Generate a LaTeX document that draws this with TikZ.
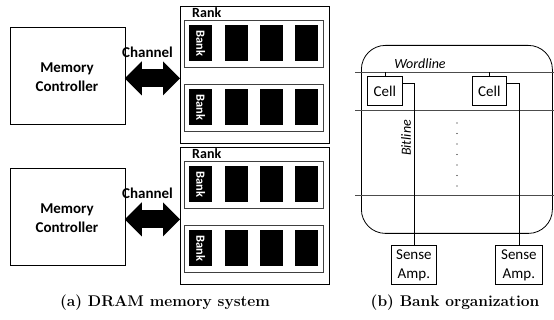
\documentclass[tikz,border=0pt]{standalone}
\usepackage{fontspec}
\setsansfont{Carlito}
\usetikzlibrary{arrows.meta,calc}
\tikzset{
  box/.style={draw, line width=0.8pt, inner sep=0pt},
  rowbox/.style={draw=black!75, line width=0.8pt, inner sep=0pt, minimum width=139pt, minimum height=47pt, anchor=north west},
  bankbox/.style={fill=black, inner sep=0pt, minimum width=23pt, minimum height=36pt, anchor=north west},
  banklbl/.style={text=white, font=\sffamily\bfseries\fontsize{12.5}{14}\selectfont, rotate=-90},
  lbl/.style={font=\sffamily\bfseries\fontsize{15}{19}\selectfont, align=center},
  rlbl/.style={font=\sffamily\fontsize{15}{19}\selectfont, align=center},
  ilbl/.style={font=\sffamily\itshape\fontsize{14}{17}\selectfont},
  wline/.style={draw=black!70, line width=0.8pt},
  bline/.style={draw=black, line width=0.8pt},
  captxt/.style={font=\rmfamily\bfseries\fontsize{15.5}{18}\selectfont},
  chan/.style={line width=18pt, {Triangle[length=17pt,width=33pt]}-{Triangle[length=17pt,width=33pt]}}
}
\begin{document}
\begin{tikzpicture}[x=1pt,y=-1pt]
\useasboundingbox (0,0) rectangle (554,320);
% ---------- (a) two memory systems ----------
\foreach \dy/\s in {0/1,141/2}{
  \node[box, minimum width=115pt, minimum height=97pt, anchor=north west] (mc\s) at (10,27+\dy) {};
  \node[lbl] (mct\s) at (67,77.5+\dy) {Memory\\Controller};
  \node[box, minimum width=149pt, minimum height=137pt, anchor=north west] (rank\s) at (180,6+\dy) {};
  \node[font=\sffamily\bfseries\fontsize{14}{16}\selectfont, anchor=west, inner sep=0pt] (rl\s) at (192,13+\dy) {Rank};
  \node[rowbox] (rowa\s) at (184,20+\dy) {};
  \node[rowbox] (rowb\s) at (184,84+\dy) {};
  \foreach \x/\k in {189/1,225/2,260/3,295/4}{
    \node[bankbox] (ba\s\k) at (\x,25+\dy) {};
    \node[bankbox] (bb\s\k) at (\x,89+\dy) {};
  }
  \node[banklbl] (bal\s) at (ba\s1.center) {Bank};
  \node[banklbl] (bbl\s) at (bb\s1.center) {Bank};
  \draw[chan] ($(mc\s.east)+(-1,2.5)$) -- ($(mc\s.east -| rank\s.west)+(0,2.5)$);
  \node[lbl] (ch\s) at (147.5,52+\dy) {Channel};
}
\node[captxt] (capa) at (165,303) {(a) DRAM memory system};
% ---------- (b) bank organization ----------
\node[draw, line width=0.8pt, rounded corners=24pt, minimum width=191pt, minimum height=188pt, anchor=north west] (bank) at (361,45) {};
\coordinate (w1l) at (355,72);  \coordinate (w1r) at (554,72);
\coordinate (w2l) at (355,110); \coordinate (w2r) at (554,110);
\coordinate (w3l) at (355,195); \coordinate (w3r) at (554,195);
\draw[wline] (w1l) -- (w1r);
\draw[wline] (w2l) -- (w2r);
\draw[wline] (w3l) -- (w3r);
\node[box, rlbl, minimum width=35pt, minimum height=29pt, anchor=north west] (c1) at (367,76) {Cell};
\node[box, rlbl, minimum width=34pt, minimum height=29pt, anchor=north west] (c2) at (472,76) {Cell};
\node[box, rlbl, minimum width=45pt, minimum height=39pt, anchor=north west] (s1) at (391,245) {Sense\\Amp.};
\node[box, rlbl, minimum width=47pt, minimum height=39pt, anchor=north west] (s2) at (495,245) {Sense\\Amp.};
\draw[bline] (c1.north) -- (c1.north |- w1l);
\draw[bline] (c2.north) -- (c2.north |- w1l);
\draw[bline] ($(c1.north east)+(0,7)$) -- ($(s1.north |- c1.north east)+(0,7)$) -- (s1.north);
\draw[bline] ($(c2.north east)+(0,7)$) -- ($(s2.north |- c2.north east)+(0,7)$) -- (s2.north);
\foreach \y in {123,133.5,144,154.5,165,175.5,186}{
  \fill (457,\y) circle (0.55pt);
}
\node[ilbl] (wl) at (420,64) {Wordline};
\node[ilbl, rotate=90] (bl) at (406,138) {Bitline};
\node[captxt] (capb) at (455,303) {(b) Bank organization};
\end{tikzpicture}
\end{document}
